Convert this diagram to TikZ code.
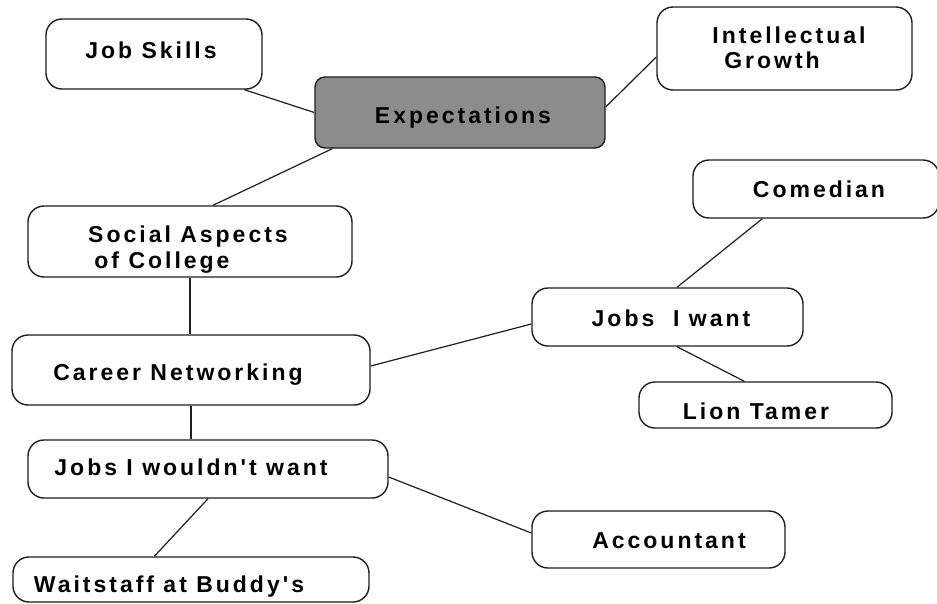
\documentclass[tikz,border=0pt]{standalone}
\usepackage{fontspec}
\newfontfamily\mapfont{Liberation Sans}[LetterSpace=13]
\usetikzlibrary{calc}
\definecolor{hubgray}{RGB}{140,140,140}
\definecolor{edge}{RGB}{30,30,30}
\tikzset{
  topic/.style={draw=edge, line width=1.4pt, rounded corners=16pt, fill=white, inner sep=0pt},
  hub/.style={topic, fill=hubgray, rounded corners=10pt},
  caption/.style={anchor=base, inner sep=0pt, font=\mapfont\bfseries\fontsize{23}{27}\selectfont},
  link/.style={draw=edge, line width=1.2pt}
}
\begin{document}
\begin{tikzpicture}[x=1pt, y=-1pt]
\useasboundingbox (0,0) rectangle (937,603);

% boxes
\node[hub,   minimum width=290pt, minimum height=71pt] (ex) at (460,112.5) {};
\node[topic, minimum width=216pt, minimum height=70pt] (js) at (154,54) {};
\node[topic, minimum width=255pt, minimum height=83pt] (ig) at (784.5,48.5) {};
\node[topic, minimum width=324pt, minimum height=71pt] (sa) at (190,241.5) {};
\node[topic, minimum width=246pt, minimum height=58pt] (co) at (816,189) {};
\node[topic, minimum width=271pt, minimum height=58pt] (jw) at (667.5,317) {};
\node[topic, minimum width=253pt, minimum height=46pt] (lt) at (765.5,405) {};
\node[topic, minimum width=358pt, minimum height=70pt] (cn) at (191,370) {};
\node[topic, minimum width=360pt, minimum height=58pt] (jn) at (208,469) {};
\node[topic, minimum width=356pt, minimum height=45pt] (ws) at (191,579.5) {};
\node[topic, minimum width=253pt, minimum height=57pt] (ac) at (658.5,539.5) {};

% labels
\node[caption] (tjs)  at (151,58)    {Job Skills};
\node[caption] (tex)  at (463,123)   {Expectations};
\node[caption] (tig1) at (789,43)    {Intellectual};
\node[caption] (tig2) at (772,68)    {Growth};
\node[caption] (tsa1) at (188,242)   {Social Aspects};
\node[caption] (tsa2) at (162,268)   {of College};
\node[caption] (tco)  at (819,197)   {Comedian};
\node[caption] (tjw)  at (671,326)   {Jobs\ \ I want};
\node[caption] (tlt)  at (756,419)   {Lion Tamer};
\node[caption] (tcn)  at (178,380)   {Career Networking};
\node[caption] (tjn)  at (191,475)   {Jobs I wouldn't want};
\node[caption] (tws)  at (169,592)   {Waitstaff at Buddy's};
\node[caption] (tac)  at (669,548)   {Accountant};

% connectors
\draw[link] ($(js.south west)+(199,0)$) -- (ex.west);
\draw[link] ($(ex.east)+(0,-5.5)$) -- ($(ig.west)+(0,8.5)$);
\draw[link] ($(ex.south west)+(18,0)$) -- ($(sa.north)+(23,0)$);
\draw[link] (sa.south) -- (sa.south |- cn.north);
\draw[link] ($(cn.east)+(0,-4)$) -- ($(jw.west)+(0,7)$);
\draw[link] ($(jw.north)+(9.5,0)$) -- ($(co.south west)+(70,0)$);
\draw[link] ($(jw.south)+(9.5,0)$) -- ($(lt.north west)+(106,0)$);
\draw[link] (cn.south) -- (cn.south |- jn.north);
\draw[link] ($(jn.east)+(0,8)$) -- ($(ac.west)+(0,-6.5)$);
\draw[link] (jn.south) -- ($(ws.north west)+(142,0)$);
\end{tikzpicture}
\end{document}
